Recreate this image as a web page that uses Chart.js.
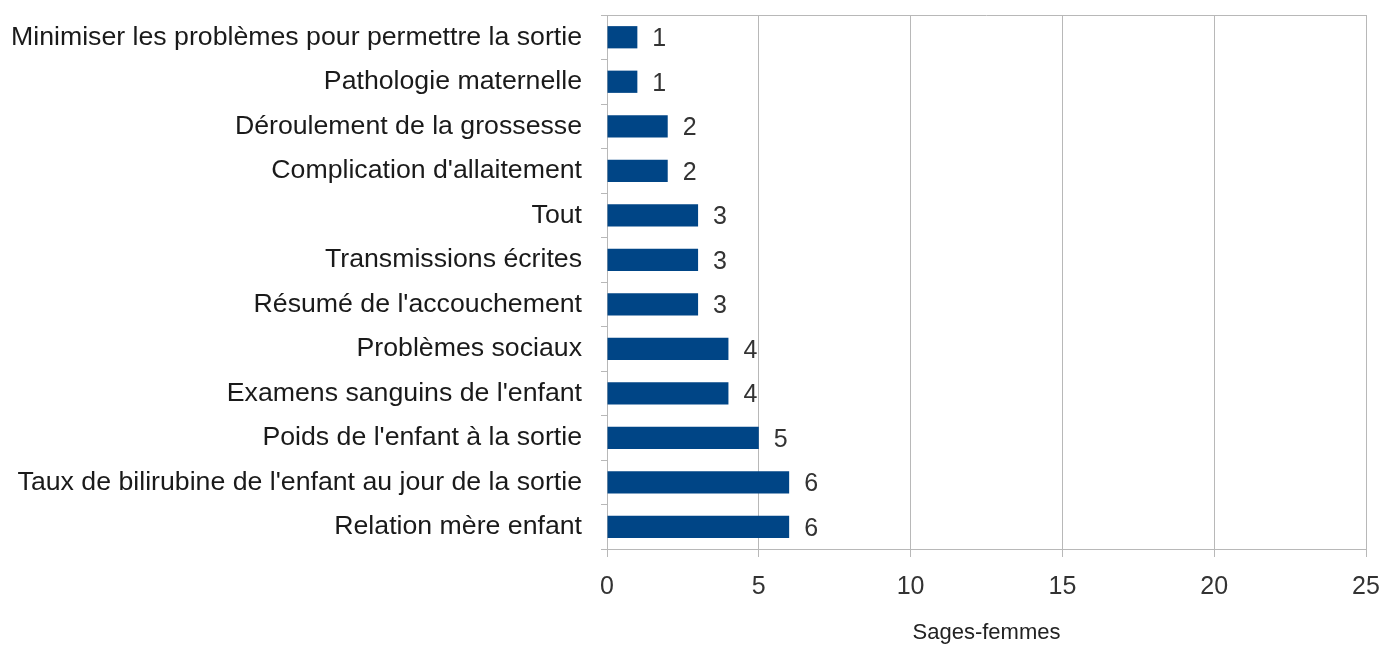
<!DOCTYPE html>
<html>
<head>
<meta charset="utf-8">
<script src="https://cdn.jsdelivr.net/npm/chart.js@4/dist/chart.umd.min.js"></script>
<style>
  html, body { margin: 0; padding: 0; background: #fff; }
  #wrap { width: 1383px; height: 646px; }
</style>
</head>
<body>
<div id="wrap"><canvas id="chart" width="1383" height="646"></canvas></div>
<script>
// Categories, top to bottom
const categories = [
    'Minimiser les problèmes pour permettre la sortie',
    'Pathologie maternelle',
    'Déroulement de la grossesse',
    "Complication d'allaitement",
    'Tout',
    'Transmissions écrites',
    "Résumé de l'accouchement",
    'Problèmes sociaux',
    "Examens sanguins de l'enfant",
    "Poids de l'enfant à la sortie",
    "Taux de bilirubine de l'enfant au jour de la sortie",
    'Relation mère enfant'
];
const values = [1, 1, 2, 2, 3, 3, 3, 4, 4, 5, 6, 6];
const xTicks = [0, 5, 10, 15, 20, 25];
const axisTitle = 'Sages-femmes';

const FONT = '"Liberation Sans", Arial, sans-serif';
const GRID = '#b8b8b8';

// Value labels next to each bar, plus the top border of the plot box
const barLabels = {
    id: 'barLabels',
    afterDatasetsDraw(chart) {
        const ctx = chart.ctx;
        const meta = chart.getDatasetMeta(0);
        ctx.save();
        ctx.font = '25px ' + FONT;
        ctx.fillStyle = '#333';
        ctx.textBaseline = 'middle';
        ctx.textAlign = 'left';
        meta.data.forEach((bar, i) => {
            ctx.fillText(String(values[i]), bar.x + 15, bar.y + 2);
        });
        const a = chart.chartArea;
        ctx.strokeStyle = GRID;
        ctx.lineWidth = 1;
        ctx.beginPath();
        ctx.moveTo(a.left, a.top + 0.5);
        ctx.lineTo(a.right, a.top + 0.5);
        ctx.stroke();
        ctx.restore();
    }
};

new Chart(document.getElementById('chart'), {
    type: 'bar',
    data: {
        labels: categories,
        datasets: [{
            data: values,
            backgroundColor: '#004586',
            borderWidth: 0,
            categoryPercentage: 1,
            barPercentage: 0.5
        }]
    },
    options: {
        indexAxis: 'y',
        responsive: false,
        animation: false,
        devicePixelRatio: 1,
        layout: { padding: { top: 15, right: 17, left: 0, bottom: 0 } },
        plugins: {
            legend: { display: false },
            tooltip: { enabled: false }
        },
        scales: {
            x: {
                min: 0,
                max: 25,
                afterBuildTicks(scale) {
                    scale.ticks = xTicks.map(v => ({ value: v }));
                },
                afterFit(scale) {
                    scale.height = 97;
                    scale.paddingLeft = 0;
                    scale.paddingRight = 0;
                },
                grid: {
                    color: GRID,
                    tickColor: GRID,
                    tickLength: 8,
                    drawTicks: true
                },
                border: { color: GRID },
                ticks: {
                    color: '#333',
                    padding: 15,
                    font: { family: FONT, size: 25 }
                },
                title: {
                    display: true,
                    text: axisTitle,
                    color: '#222',
                    padding: { top: 0, bottom: 0 },
                    font: { family: FONT, size: 22 }
                }
            },
            y: {
                afterFit(scale) {
                    scale.width = 607;
                    scale.paddingTop = 0;
                    scale.paddingBottom = 0;
                },
                grid: {
                    offset: true,
                    drawOnChartArea: false,
                    tickColor: GRID,
                    tickLength: 6
                },
                border: { color: GRID },
                ticks: {
                    color: '#1a1a1a',
                    padding: 19,
                    autoSkip: false,
                    font: { family: FONT, size: 26.7 }
                }
            }
        }
    },
    plugins: [barLabels]
});
</script>
</body>
</html>
